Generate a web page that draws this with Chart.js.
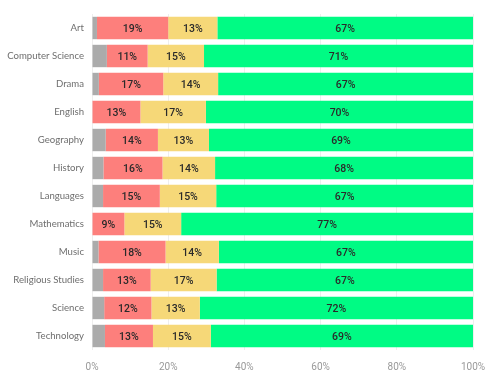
<!DOCTYPE html>
<html>
<head>
<meta charset="utf-8">
<script src="https://cdn.jsdelivr.net/npm/chart.js@4"></script>
<style>
  html, body { margin: 0; padding: 0; background: #fff; }
  #wrap { width: 491px; height: 377px; }
</style>
</head>
<body>
<div id="wrap"><canvas id="chart"></canvas></div>
<script>
// subjects and share of each grade band (percent)
const subjects = ['Art', 'Computer Science', 'Drama', 'English', 'Geography', 'History',
  'Languages', 'Mathematics', 'Music', 'Religious Studies', 'Science', 'Technology'];
const grayVals   = [1.3, 3.9, 1.8, 0, 3.6, 3.0, 2.9, 0, 1.7, 2.9, 3.2, 3.4];
const redVals    = [18.7, 10.7, 16.9, 12.7, 13.7, 15.5, 14.9, 8.5, 17.6, 12.5, 12.4, 12.6];
const yellowVals = [12.9, 14.8, 14.4, 17.2, 13.4, 13.8, 14.8, 14.9, 14.0, 17.3, 12.7, 15.2];
const greenVals  = [67.1, 70.6, 66.9, 70.1, 69.3, 67.7, 67.4, 76.6, 66.7, 67.3, 71.7, 68.8];
const xTicks = [0, 20, 40, 60, 80, 100];

// draws the % text in the middle of each bar piece (no label on the gray piece)
const barLabels = {
  id: 'barLabels',
  afterDatasetsDraw(chart) {
    const ctx = chart.ctx;
    ctx.save();
    ctx.font = '500 10.5px Roboto, "DejaVu Sans", sans-serif';
    ctx.textAlign = 'center';
    ctx.textBaseline = 'middle';
    ctx.fillStyle = '#2a2a2a';
    chart.data.datasets.forEach((ds, i) => {
      if (i === 0) return;
      chart.getDatasetMeta(i).data.forEach((bar, j) => {
        const v = ds.data[j];
        if (!v) return;
        const cx = (bar.x + bar.base) / 2;
        ctx.fillText(Math.round(v) + '%', cx, bar.y + 1);
      });
    });
    ctx.restore();
  }
};

const ctx = document.getElementById('chart').getContext('2d');
new Chart(ctx, {
  type: 'bar',
  data: {
    labels: subjects,
    datasets: [
      { label: 'Gray', data: grayVals, backgroundColor: '#ababab' },
      { label: 'Red', data: redVals, backgroundColor: '#fd7f7c' },
      { label: 'Yellow', data: yellowVals, backgroundColor: '#f6d878' },
      { label: 'Green', data: greenVals, backgroundColor: '#00fb84' }
    ]
  },
  options: {
    indexAxis: 'y',
    responsive: true,
    maintainAspectRatio: false,
    animation: false,
    categoryPercentage: 0.8,
    barPercentage: 1,
    layout: { padding: { top: 14, right: 18, bottom: 0, left: 0 } },
    plugins: {
      legend: { display: false },
      tooltip: { enabled: false }
    },
    scales: {
      x: {
        stacked: true,
        min: 0,
        max: 100,
        afterBuildTicks: axis => { axis.ticks = xTicks.map(v => ({ value: v })); },
        afterFit: axis => {
          axis.height = 27;
          axis.paddingLeft = 0;
          axis.paddingRight = 0;
        },
        ticks: {
          callback: v => v + '%',
          color: '#999999',
          padding: 11,
          font: { family: 'Roboto, "DejaVu Sans", sans-serif', size: 10 }
        },
        grid: { color: '#eeeeee', drawTicks: false },
        border: { display: false }
      },
      y: {
        stacked: true,
        afterFit: axis => { axis.width = 92; },
        ticks: {
          color: '#6e6e6e',
          padding: 8,
          font: { family: 'Lato, sans-serif', size: 9.6 }
        },
        grid: { display: false, drawTicks: false },
        border: { display: false }
      }
    }
  },
  plugins: [barLabels]
});
</script>
</body>
</html>
